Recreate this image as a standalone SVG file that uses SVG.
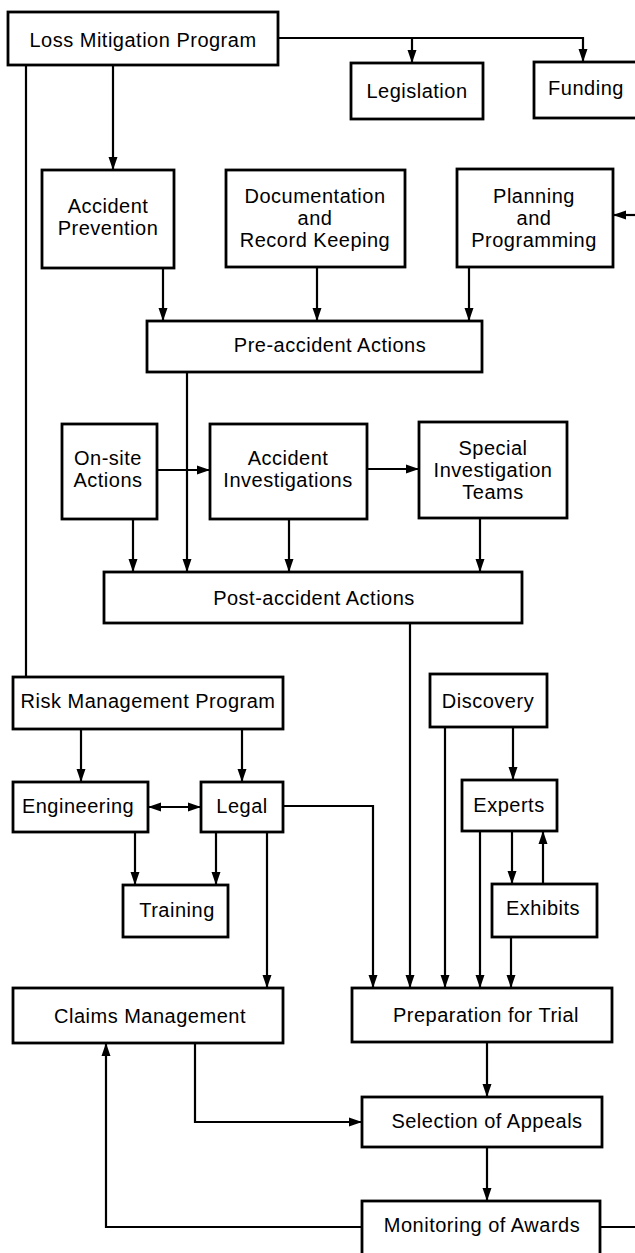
<svg xmlns="http://www.w3.org/2000/svg" width="635" height="1253" viewBox="0 0 635 1253">
<style>
.box{fill:#fff;stroke:#000;stroke-width:2.8}
.t{font-family:"Liberation Sans",Arial,sans-serif;font-size:20px;letter-spacing:0.5px;text-anchor:middle;fill:#000}
.c{fill:none;stroke:#000;stroke-width:2.2}
</style>
<defs>
<marker id="ah" markerUnits="userSpaceOnUse" markerWidth="14" markerHeight="10" refX="13" refY="5" orient="auto">
<path d="M0,0.5 L13,5 L0,9.5 Z" fill="#000"/>
</marker>
<marker id="as" markerUnits="userSpaceOnUse" markerWidth="14" markerHeight="10" refX="0" refY="5" orient="auto">
<path d="M13,0.5 L0,5 L13,9.5 Z" fill="#000"/>
</marker>
</defs>
<rect width="635" height="1253" fill="#fff"/>
<g id="connectors">
<path class="c" d="M26,65 V677"/>
<path class="c" d="M113,65 V170" marker-end="url(#ah)"/>
<path class="c" d="M278,38 H583 V62" marker-end="url(#ah)"/>
<path class="c" d="M412,38 V63" marker-end="url(#ah)"/>
<path class="c" d="M635,215 H613" marker-end="url(#ah)"/>
<path class="c" d="M163,268 V321" marker-end="url(#ah)"/>
<path class="c" d="M317,267 V321" marker-end="url(#ah)"/>
<path class="c" d="M469,267 V321" marker-end="url(#ah)"/>
<path class="c" d="M157,470 H210" marker-end="url(#ah)"/>
<path class="c" d="M367,469 H419" marker-end="url(#ah)"/>
<path class="c" d="M187,372 V572" marker-end="url(#ah)"/>
<path class="c" d="M133,519 V572" marker-end="url(#ah)"/>
<path class="c" d="M289,519 V572" marker-end="url(#ah)"/>
<path class="c" d="M480,518 V572" marker-end="url(#ah)"/>
<path class="c" d="M410,623 V988" marker-end="url(#ah)"/>
<path class="c" d="M81,729 V782" marker-end="url(#ah)"/>
<path class="c" d="M242,729 V782" marker-end="url(#ah)"/>
<path class="c" d="M148,807 H201" marker-start="url(#as)" marker-end="url(#ah)"/>
<path class="c" d="M135,832 V885" marker-end="url(#ah)"/>
<path class="c" d="M216,832 V885" marker-end="url(#ah)"/>
<path class="c" d="M267,832 V988" marker-end="url(#ah)"/>
<path class="c" d="M283,806 H373 V988" marker-end="url(#ah)"/>
<path class="c" d="M445,727 V988" marker-end="url(#ah)"/>
<path class="c" d="M513,727 V780" marker-end="url(#ah)"/>
<path class="c" d="M480,831 V988" marker-end="url(#ah)"/>
<path class="c" d="M512,831 V884" marker-end="url(#ah)"/>
<path class="c" d="M543,884 V831" marker-end="url(#ah)"/>
<path class="c" d="M511,937 V988" marker-end="url(#ah)"/>
<path class="c" d="M487,1042 V1097" marker-end="url(#ah)"/>
<path class="c" d="M195,1043 V1122 H362" marker-end="url(#ah)"/>
<path class="c" d="M487,1147 V1201" marker-end="url(#ah)"/>
<path class="c" d="M362,1227 H106 V1043" marker-end="url(#ah)"/>
<path class="c" d="M600,1227 H635"/>
</g>
<g id="loss-mitigation"><rect class="box" x="8" y="12" width="270" height="53"/><text class="t" x="143" y="47">Loss Mitigation Program</text></g>
<g id="legislation"><rect class="box" x="351" y="63" width="132" height="56"/><text class="t" x="417" y="98">Legislation</text></g>
<g id="funding"><rect class="box" x="534" y="62" width="120" height="56"/><text class="t" x="586" y="95">Funding</text></g>
<g id="accident-prevention"><rect class="box" x="42" y="170" width="132" height="98"/><text class="t" x="108" y="213">Accident</text><text class="t" x="108" y="235">Prevention</text></g>
<g id="documentation"><rect class="box" x="226" y="170" width="179" height="97"/><text class="t" x="315" y="203">Documentation</text><text class="t" x="315" y="225">and</text><text class="t" x="315" y="247">Record Keeping</text></g>
<g id="planning"><rect class="box" x="457" y="169" width="156" height="98"/><text class="t" x="534" y="203">Planning</text><text class="t" x="534" y="225">and</text><text class="t" x="534" y="247">Programming</text></g>
<g id="pre-accident"><rect class="box" x="147" y="321" width="335" height="51"/><text class="t" x="330" y="352">Pre-accident Actions</text></g>
<g id="on-site"><rect class="box" x="62" y="424" width="95" height="95"/><text class="t" x="108" y="465">On-site</text><text class="t" x="108" y="487">Actions</text></g>
<g id="accident-investigations"><rect class="box" x="210" y="424" width="157" height="95"/><text class="t" x="288" y="465">Accident</text><text class="t" x="288" y="487">Investigations</text></g>
<g id="special-teams"><rect class="box" x="419" y="422" width="148" height="96"/><text class="t" x="493" y="455">Special</text><text class="t" x="493" y="477">Investigation</text><text class="t" x="493" y="499">Teams</text></g>
<g id="post-accident"><rect class="box" x="104" y="572" width="418" height="51"/><text class="t" x="314" y="605">Post-accident Actions</text></g>
<g id="risk-management"><rect class="box" x="13" y="677" width="270" height="52"/><text class="t" x="148" y="708">Risk Management Program</text></g>
<g id="discovery"><rect class="box" x="430" y="674" width="117" height="53"/><text class="t" x="488" y="708">Discovery</text></g>
<g id="engineering"><rect class="box" x="13" y="782" width="135" height="50"/><text class="t" x="78" y="813">Engineering</text></g>
<g id="legal"><rect class="box" x="201" y="782" width="82" height="50"/><text class="t" x="242" y="813">Legal</text></g>
<g id="experts"><rect class="box" x="462" y="780" width="95" height="51"/><text class="t" x="509" y="812">Experts</text></g>
<g id="training"><rect class="box" x="123" y="885" width="105" height="52"/><text class="t" x="177" y="917">Training</text></g>
<g id="exhibits"><rect class="box" x="492" y="884" width="105" height="53"/><text class="t" x="543" y="915">Exhibits</text></g>
<g id="claims"><rect class="box" x="13" y="988" width="270" height="55"/><text class="t" x="150" y="1023">Claims Management</text></g>
<g id="preparation"><rect class="box" x="352" y="988" width="260" height="54"/><text class="t" x="486" y="1022">Preparation for Trial</text></g>
<g id="selection"><rect class="box" x="362" y="1097" width="240" height="50"/><text class="t" x="487" y="1128">Selection of Appeals</text></g>
<g id="monitoring"><rect class="box" x="362" y="1201" width="238" height="60"/><text class="t" x="482" y="1232">Monitoring of Awards</text></g>
</svg>
